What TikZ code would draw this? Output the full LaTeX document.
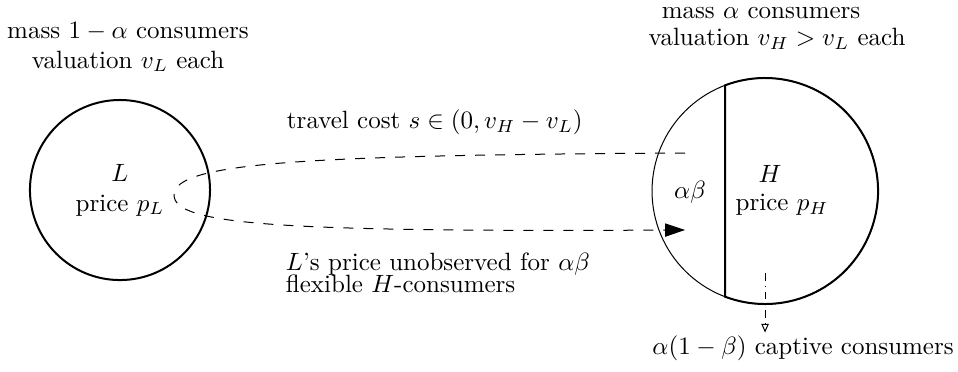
\documentclass[tikz,border=0pt]{standalone}
\usepackage{amsmath,amssymb}
\usepackage{tikz}
\usetikzlibrary{arrows.meta,positioning,calc}
\tikzset{
  >={Triangle[length=8pt, width=5.3pt]},
  market/.style={circle, draw, thick, align=center, inner sep=0},
  lbl/.style={align=center, inner sep=1pt},
  travel/.style={->, dash pattern=on 4pt off 4pt},
  captive/.style={-{Triangle[open, length=3.5pt, width=3pt]}, dash dot},
}

\begin{document}
\begin{tikzpicture}
    \useasboundingbox (0,0) rectangle (13.47,5.217);
    % markets
    \node[market, minimum size=2.532cm] (L) at (1.687,2.545) {$L$\\price $p_L$};
    \node[circle, draw, thin, minimum size=3.178cm, inner sep=0] (H) at (10.757,2.531) {};
    % captive part of H (thick arc closed by the chord)
    \draw[thick] (H.center) ++(110.7:1.589) arc[start angle=110.7, end angle=-110.7, radius=1.589] -- cycle;
    \node[lbl] (Hname)  at (10.827,2.770) {$H$};
    \node[lbl] (Hprice) at (10.996,2.334) {price $p_H$};
    \node[lbl] (flex)   at (9.702,2.517) {$\alpha\beta$};
    % consumer masses
    \node[lbl] (massL) at (1.800,4.556) {mass $1-\alpha$ consumers\\valuation $v_L$ each};
    \node[lbl] (massH) at (10.701,5.034) {mass $\alpha$ consumers};
    \node[lbl] (valH)  at (10.926,4.668) {valuation $v_H>v_L$ each};
    % travel loop
    \coordinate (ts) at (9.632,3.065);
    \coordinate (tl) at (2.447,2.475);
    \coordinate (te) at (9.632,1.983);
    \draw[travel] (ts) .. controls (4.219,3.037) and (2.447,2.925) .. (tl)
                       .. controls (2.447,2.053) and (3.937,1.955) .. (te);
    \node[lbl, anchor=west] (cost) at (3.993,3.501) {travel cost $s\in(0,v_H-v_L)$};
    \node[lbl, anchor=west, align=left] (unobs) at (3.979,1.378)
        {$L$'s price unobserved for $\alpha\beta$\\[-3pt]flexible $H$-consumers};
    % captive consumers
    \node[lbl] (capt) at (11.292,0.323) {$\alpha(1-\beta)$ captive consumers};
    \coordinate (cs) at (10.757,1.378);
    \draw[captive] (cs) -- (cs |- capt.north);
\end{tikzpicture}
\end{document}
